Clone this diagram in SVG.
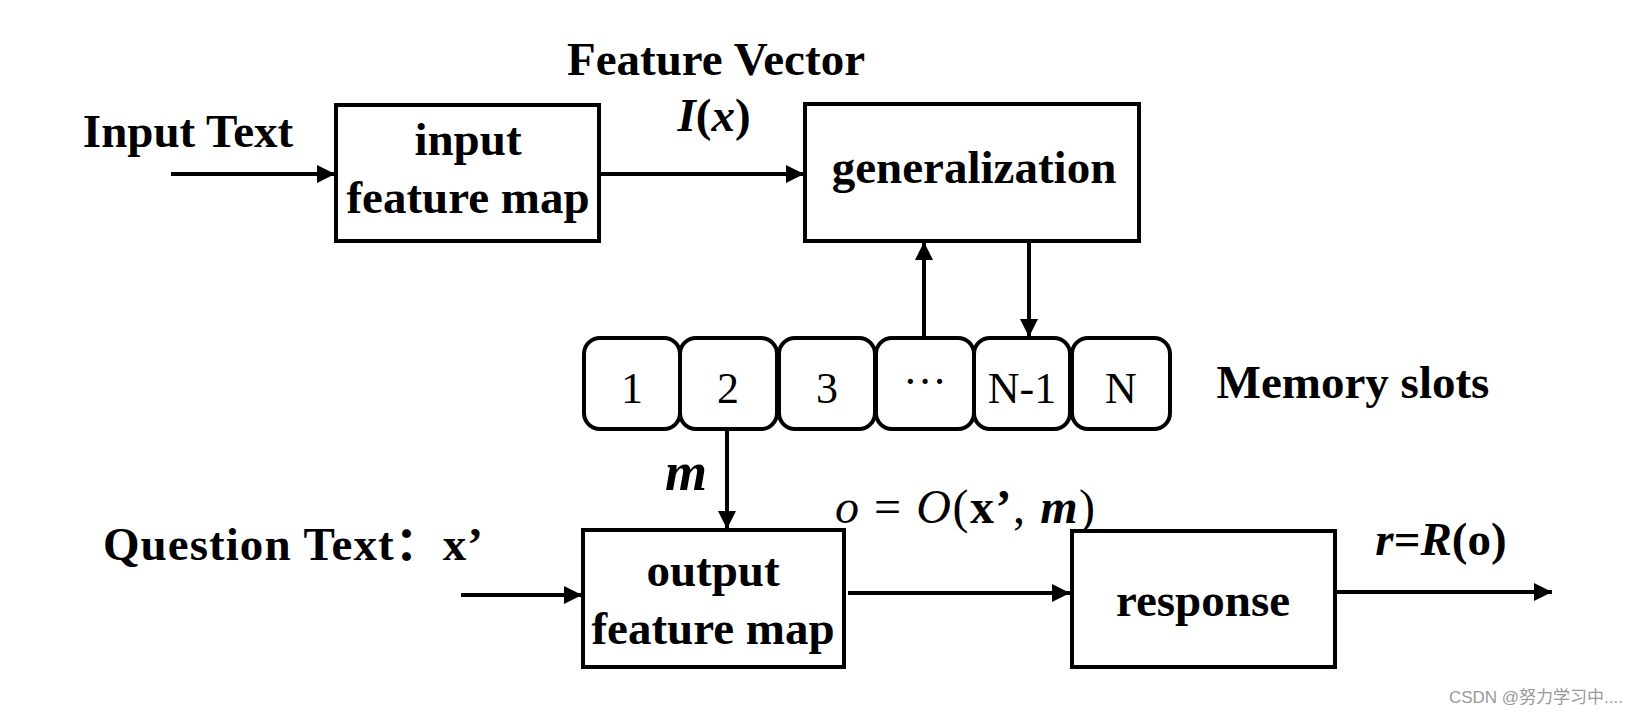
<svg xmlns="http://www.w3.org/2000/svg" width="1642" height="716" viewBox="0 0 1642 716">
<style>
.t{font-family:"Liberation Serif","Noto Sans CJK SC",serif;font-weight:bold;font-size:47px;fill:#000;text-anchor:middle}
.s{font-family:"Liberation Serif",serif;font-size:44px;fill:#000;text-anchor:middle}
.box{fill:#fff;stroke:#000;stroke-width:4}
.slot{fill:#fff;stroke:#000;stroke-width:4}
.c{stroke:#000;stroke-width:4;fill:none}
.i{font-style:italic}
.n{font-weight:normal}
</style>
<defs>
<marker id="ah" viewBox="0 0 10 10" refX="10" refY="5" markerWidth="5.5" markerHeight="4.5" markerUnits="strokeWidth" orient="auto">
<path d="M0,0 L10,5 L0,10 Z" fill="#000"/>
</marker>
</defs>
<rect width="1642" height="716" fill="#fff"/>

<g id="labels">
<text class="t" x="716" y="75">Feature Vector</text>
<text class="t" x="714" y="131"><tspan class="i">I</tspan>(<tspan class="i">x</tspan>)</text>
<text class="t" x="188" y="147">Input Text</text>
<text class="t" x="293" y="560" textLength="380" lengthAdjust="spacing">Question Text：x’</text>
<text class="t" x="686" y="490" style="font-size:54px"><tspan class="i">m</tspan></text>
<text class="t" x="965" y="523" style="font-size:48px" textLength="260" lengthAdjust="spacing"><tspan class="i n">o</tspan><tspan class="n"> = </tspan><tspan class="i n">O</tspan><tspan class="n">(</tspan>x’<tspan class="n">, </tspan><tspan class="i">m</tspan><tspan class="n">)</tspan></text>
<text class="t" x="1441" y="555"><tspan class="i">r</tspan>=<tspan class="i">R</tspan>(o)</text>
<text class="t" x="1353" y="398">Memory slots</text>
<text x="1623" y="703" style="font-family:'Liberation Sans','Noto Sans CJK SC',sans-serif;font-size:17px;fill:#999;text-anchor:end">CSDN @努力学习中....</text>
</g>

<g id="connectors">
<line class="c" x1="171" y1="174" x2="335" y2="174" marker-end="url(#ah)"/>
<line class="c" x1="599" y1="174" x2="804" y2="174" marker-end="url(#ah)"/>
<line class="c" x1="924" y1="338" x2="924" y2="242" marker-end="url(#ah)"/>
<line class="c" x1="1029" y1="241" x2="1029" y2="337" marker-end="url(#ah)"/>
<line class="c" x1="727" y1="429" x2="727" y2="529" marker-end="url(#ah)"/>
<line class="c" x1="461" y1="595" x2="582" y2="595" marker-end="url(#ah)"/>
<line class="c" x1="848" y1="593" x2="1070" y2="593" marker-end="url(#ah)"/>
<line class="c" x1="1335" y1="592" x2="1552" y2="592" marker-end="url(#ah)"/>
</g>

<g id="input-feature-map">
<rect class="box" x="336" y="105" width="263" height="136"/>
<text class="t" x="468" y="155">input</text>
<text class="t" x="468" y="213">feature map</text>
</g>

<g id="generalization">
<rect class="box" x="805" y="104" width="334" height="137"/>
<text class="t" x="974" y="183">generalization</text>
</g>

<g id="slot-1"><rect class="slot" x="584" y="338" width="96" height="91" rx="16"/><text class="s" x="632" y="403">1</text></g>
<g id="slot-2"><rect class="slot" x="680" y="338" width="97" height="91" rx="16"/><text class="s" x="728" y="403">2</text></g>
<g id="slot-3"><rect class="slot" x="779" y="338" width="96" height="91" rx="16"/><text class="s" x="827" y="403">3</text></g>
<g id="slot-dots"><rect class="slot" x="876" y="338" width="98" height="91" rx="16"/><text class="s" x="925" y="396">···</text></g>
<g id="slot-n-1"><rect class="slot" x="974" y="338" width="96" height="91" rx="16"/><text class="s" x="1022" y="403">N-1</text></g>
<g id="slot-n"><rect class="slot" x="1072" y="338" width="98" height="91" rx="16"/><text class="s" x="1121" y="403">N</text></g>

<g id="output-feature-map">
<rect class="box" x="583" y="530" width="261" height="137"/>
<text class="t" x="713" y="586">output</text>
<text class="t" x="713" y="644">feature map</text>
</g>

<g id="response">
<rect class="box" x="1072" y="531" width="263" height="136"/>
<text class="t" x="1203" y="616">response</text>
</g>
</svg>
